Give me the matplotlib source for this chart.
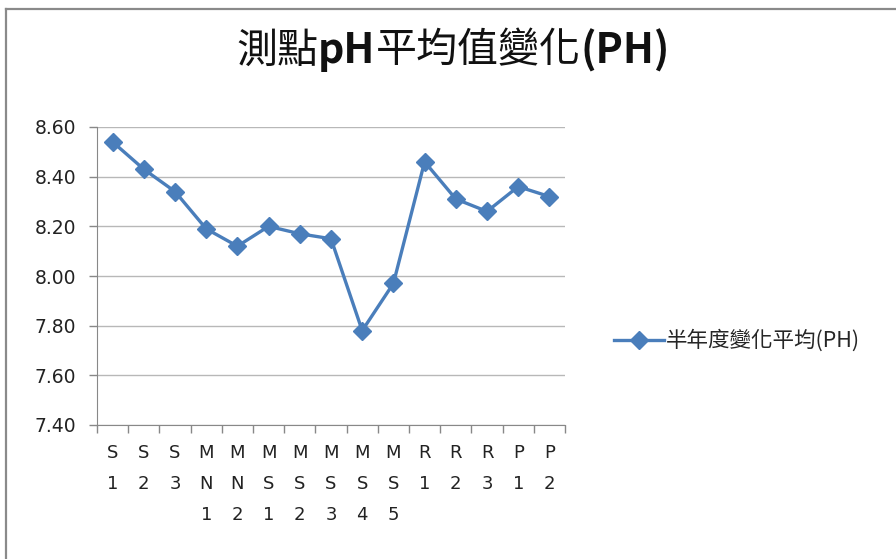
import matplotlib
matplotlib.use("Agg")
import matplotlib.pyplot as plt
from matplotlib.lines import Line2D

plt.rcParams['font.family'] = ['Noto Sans CJK TC', 'DejaVu Sans']

# data
sites = ['S1', 'S2', 'S3', 'MN1', 'MN2', 'MS1', 'MS2', 'MS3', 'MS4', 'MS5',
         'R1', 'R2', 'R3', 'P1', 'P2']
ph_avg = [8.54, 8.43, 8.34, 8.19, 8.12, 8.20, 8.17, 8.15, 7.78, 7.97,
          8.46, 8.31, 8.26, 8.36, 8.32]
y_ticks = [7.40, 7.60, 7.80, 8.00, 8.20, 8.40, 8.60]
series_name = '半年度變化平均(PH)'

blue = '#4A7EBB'
grid_c = '#B8B8B8'
axis_c = '#888888'
label_font = 'DejaVu Sans'

fig = plt.figure(figsize=(8.96, 5.59), dpi=100)
ax = fig.add_axes([97 / 896, 1 - 425 / 559, 468 / 896, 298 / 559])

x = list(range(len(sites)))
line, = ax.plot(x, ph_avg, color=blue, lw=2.4, marker='D', markersize=9,
                markerfacecolor=blue, markeredgecolor=blue)

ax.set_xlim(-0.5, len(sites) - 0.5)
ax.set_ylim(7.40, 8.60)
ax.set_yticks(y_ticks)
ax.set_yticklabels(['%.2f' % v for v in y_ticks], fontfamily=label_font)
ax.yaxis.grid(True, color=grid_c, lw=1)
ax.set_axisbelow(True)

# ticks at category boundaries, labels at centres
ax.set_xticks([i - 0.5 for i in range(len(sites) + 1)])
ax.set_xticklabels([])
ax.set_xticks(x, minor=True)
ax.set_xticklabels(['\n'.join(s) for s in sites], minor=True,
                   linespacing=1.93, va='top', fontfamily=label_font)
ax.tick_params(axis='x', which='minor', length=0, pad=14, labelsize=13,
               labelcolor='#222222')
ax.tick_params(axis='x', which='major', length=6, color=axis_c, width=1)
ax.tick_params(axis='y', length=6, color=axis_c, width=1, labelsize=13.5,
               labelcolor='#222222', pad=9)

for side in ['top', 'right']:
    ax.spines[side].set_visible(False)
ax.spines['left'].set_color(axis_c)
ax.spines['bottom'].set_color(axis_c)

# legend
fig.legend([line], [series_name], loc='center left',
           bbox_to_anchor=(595 / 896, 1 - 341 / 559), frameon=False,
           fontsize=15.5, handlelength=2.3, handletextpad=0.1,
           labelcolor='#262626')

# title with mixed weights
parts = [('測點', 'normal'), ('pH', 'bold'), ('平均值變化', 'normal'),
         ('(PH)', 'bold')]
fig.canvas.draw()
renderer = fig.canvas.get_renderer()
texts = []
for s, w in parts:
    t = fig.text(0, 1 - 51 / 559, s, fontsize=29.5, fontweight=w,
                 va='center', ha='left', color='#111111')
    bb = t.get_window_extent(renderer)
    texts.append((t, bb.width))
total = sum(wd for _, wd in texts)
start = 453 - total / 2
for t, wd in texts:
    t.set_x(start / 896)
    start += wd

# chart border (top and left edges visible)
fig.add_artist(Line2D([6 / 896, 1], [1 - 8.5 / 559] * 2, color='#8A8A8A',
                      lw=1.6, transform=fig.transFigure))
fig.add_artist(Line2D([6 / 896] * 2, [0, 1 - 8.5 / 559], color='#8A8A8A',
                      lw=1.6, transform=fig.transFigure))

fig.savefig('out.png', dpi=100)
